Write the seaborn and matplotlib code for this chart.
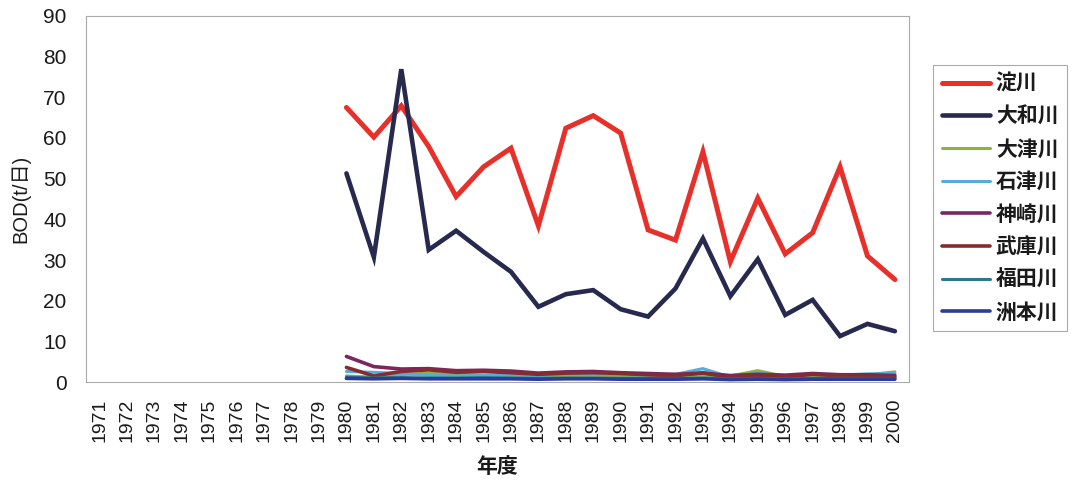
import numpy as np
import pandas as pd
import matplotlib
matplotlib.use("Agg")
import matplotlib.pyplot as plt
import seaborn as sns
from matplotlib.lines import Line2D

years = list(range(1980, 2001))
tick_years = list(range(1971, 2001))

yodo    = [67.5, 60.2, 67.9, 57.9, 45.6, 52.9, 57.5, 38.4, 62.4, 65.5, 61.2, 37.4, 34.9, 56.6, 29.6, 45.2, 31.5, 36.7, 52.9, 31.0, 25.2]
yamato  = [51.3, 30.7, 76.9, 32.5, 37.2, 32.0, 27.1, 18.5, 21.6, 22.6, 17.9, 16.1, 23.0, 35.3, 21.1, 30.2, 16.5, 20.2, 11.3, 14.3, 12.5]
otsu    = [1.5, 1.2, 1.8, 2.2, 1.8, 1.7, 1.6, 1.3, 1.4, 1.4, 1.3, 1.2, 1.3, 1.5, 1.5, 2.8, 1.4, 1.6, 1.5, 1.8, 2.5]
ishizu  = [2.6, 2.4, 2.1, 1.6, 1.5, 1.6, 1.7, 1.6, 2.0, 1.9, 1.8, 1.7, 1.9, 3.3, 1.2, 2.2, 1.5, 2.0, 1.7, 2.0, 2.1]
kanzaki = [6.3, 3.8, 3.2, 3.3, 2.8, 2.9, 2.7, 2.2, 2.5, 2.6, 2.3, 2.1, 1.9, 2.2, 1.6, 1.9, 1.7, 2.1, 1.8, 1.8, 1.6]
muko    = [3.6, 1.5, 2.6, 3.0, 2.4, 2.6, 2.3, 1.9, 2.2, 2.3, 2.1, 1.8, 1.5, 2.3, 1.0, 1.7, 1.3, 1.9, 1.5, 1.5, 1.2]
fukuda  = [1.2, 1.0, 1.1, 1.0, 1.0, 1.1, 1.0, 0.9, 1.0, 1.0, 0.9, 0.9, 0.9, 1.0, 0.8, 0.9, 0.8, 0.9, 0.9, 0.9, 0.9]
sumoto  = [0.9, 0.8, 0.9, 0.8, 0.8, 0.8, 0.8, 0.7, 0.8, 0.8, 0.7, 0.7, 0.7, 0.8, 0.6, 0.7, 0.6, 0.7, 0.7, 0.7, 0.7]

names = ["淀川", "大和川", "大津川", "石津川", "神崎川", "武庫川", "福田川", "洲本川"]
series = [yodo, yamato, otsu, ishizu, kanzaki, muko, fukuda, sumoto]
colors = ["#e8302a", "#272a4e", "#8ab43e", "#55acdc", "#7c2660", "#862c2e", "#2d7890", "#2b3b98"]
widths = [3.6, 3.3, 2.2, 2.2, 2.6, 2.6, 2.2, 2.6]

df = pd.DataFrame({
    "year": np.tile(years, len(names)),
    "value": np.concatenate(series),
    "river": np.repeat(names, len(years)),
})

sns.set_style("white")
plt.rcParams["font.family"] = ["Liberation Sans", "Noto Sans CJK JP", "DejaVu Sans"]

fig = plt.figure(figsize=(10.74, 4.83), dpi=100)
ax = fig.add_axes([0.080, 0.209, 0.766, 0.758])

sns.lineplot(data=df, x="year", y="value", hue="river", hue_order=names,
             palette=colors, ax=ax, legend=False, estimator=None, sort=False)
for line, w in zip(ax.get_lines(), widths):
    line.set_linewidth(w)
    line.set_solid_joinstyle("miter")

ax.set_xlim(1970.5, 2000.5)
ax.set_ylim(0, 90)
ax.set_yticks(range(0, 91, 10))
ax.set_xticks(tick_years)
ax.set_xticklabels([str(y) for y in tick_years], rotation=90, fontsize=14, color="#1a1a1a")
ax.set_xticks(np.arange(1970.5, 2001, 1.0), minor=True)
ax.tick_params(axis="x", which="major", length=0, pad=12)
ax.tick_params(axis="x", which="minor", length=5, color="#999999", width=0.8, direction="out")
ax.tick_params(axis="y", which="major", length=5, color="#999999", width=0.8,
               direction="out", labelsize=15, labelcolor="#1a1a1a", pad=9)
for s in ax.spines.values():
    s.set_visible(True)
    s.set_color("#aaaaaa")
    s.set_linewidth(0.8)

ax.set_ylabel("BOD(t/日)", fontsize=14.5, color="#1a1a1a",
              family=["Liberation Sans", "Noto Sans CJK JP"], labelpad=9)
ax.set_xlabel("年度", fontsize=15, fontweight="bold", color="#1a1a1a",
              family=["Noto Sans CJK JP"], labelpad=10)

handles = [Line2D([], [], color=c, lw=w, solid_capstyle="round") for c, w in zip(colors, widths)]
leg = fig.legend(handles, names, loc="upper left", bbox_to_anchor=(0.869, 0.866),
                 bbox_transform=fig.transFigure, borderaxespad=0, frameon=True,
                 fancybox=False, framealpha=1, edgecolor="#aaaaaa",
                 handlelength=2.3, handletextpad=0.3, labelspacing=0.56,
                 borderpad=0.4, prop={"family": "Noto Sans CJK JP", "size": 15, "weight": "bold"})
leg.get_frame().set_linewidth(0.8)
for t in leg.get_texts():
    t.set_color("#1a1a1a")

fig.savefig("out.png", dpi=100)
